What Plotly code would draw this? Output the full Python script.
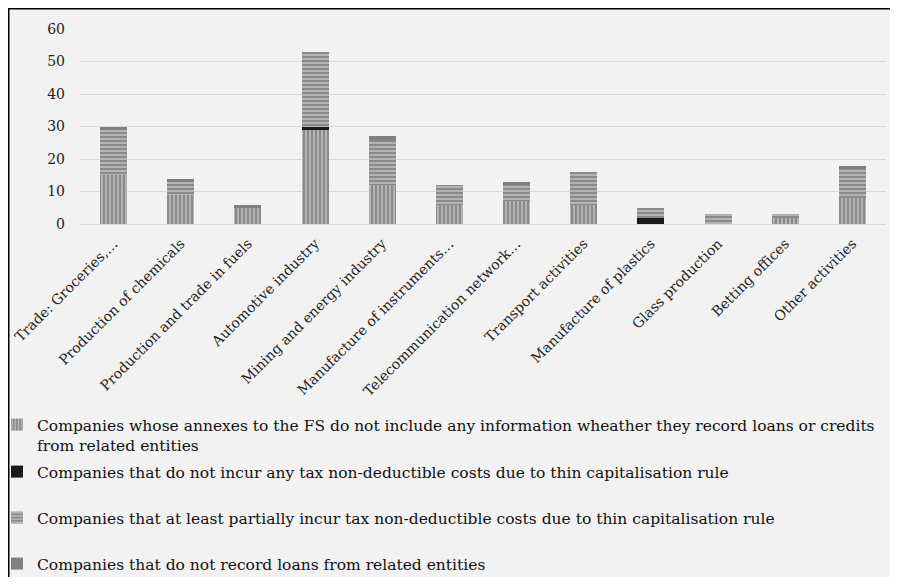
import plotly.graph_objects as go

categories = [
    "Trade: Groceries,…", "Production of chemicals", "Production and trade in fuels",
    "Automotive industry", "Mining and energy industry", "Manufacture of instruments…",
    "Telecommunication network…", "Transport activities", "Manufacture of plastics",
    "Glass production", "Betting offices", "Other activities",
]

no_info = [15, 9, 5, 29, 12, 6, 7, 6, 0, 0, 2, 8]
no_costs = [0, 0, 0, 1, 0, 0, 0, 0, 2, 0, 0, 0]
partial_costs = [14, 4, 0, 23, 14, 6, 5, 10, 3, 3, 1, 9]
no_loans = [1, 1, 1, 0, 1, 0, 1, 0, 0, 0, 0, 1]

series_names = [
    "Companies whose annexes to the FS do not include any information wheather they record loans or credits<br>from related entities",
    "Companies that do not incur any tax non-deductible costs due to thin capitalisation rule",
    "Companies that at least partially incur tax non-deductible costs due to thin capitalisation rule",
    "Companies that do not record loans from related entities",
]

# page body has an 8px margin, so the figure is sized to fit inside it
OFF = 8
W, H = 898 - 2 * OFF, 585 - 2 * OFF
L, R, T, B = 80 - OFF, W - (886 - OFF), 29 - OFF, H - (224 - OFF)
pw, ph = W - L - R, H - T - B

def px_x(p):
    # page pixel -> paper x
    return (p - OFF - L) / pw

def px_y(p):
    # page pixel -> paper y
    return (H - B - (p - OFF)) / ph

fig = go.Figure()

styles = [
    dict(color="#8a8a8a", pattern=dict(shape="|", fgcolor="#ffffff", size=4, solidity=0.35)),
    dict(color="#1a1a1a"),
    dict(color="#8a8a8a", pattern=dict(shape="-", fgcolor="#ffffff", size=4, solidity=0.35)),
    dict(color="#808080"),
]

legend_ids = ["legend", "legend2", "legend3", "legend4"]
legend_tops = [408, 455, 501, 547]

for vals, name, st, lg in zip([no_info, no_costs, partial_costs, no_loans], series_names, styles, legend_ids):
    fig.add_trace(go.Bar(
        x=categories, y=vals, name=name, legend=lg, showlegend=True,
        marker=dict(line=dict(width=0), **st),
    ))

legend_style = dict(
    x=px_x(-3), xanchor="left", yanchor="top", valign="top",
    font=dict(size=15.5, color="#111111"), bgcolor="rgba(0,0,0,0)",
    itemwidth=30,
)
legends = {lg: dict(y=px_y(top), **legend_style) for lg, top in zip(legend_ids, legend_tops)}

fig.update_layout(
    width=W, height=H, showlegend=True,
    barmode="stack", bargap=0.6,
    margin=dict(l=L, r=R, t=T, b=B, autoexpand=False),
    paper_bgcolor="white", plot_bgcolor="rgba(0,0,0,0)",
    font=dict(family="DejaVu Serif, serif", color="#222222", size=14),
    shapes=[dict(
        type="rect", xref="paper", yref="paper", layer="below",
        x0=px_x(8.75), x1=px_x(920), y0=px_y(610), y1=px_y(8.75),
        fillcolor="#f2f2f2", line=dict(color="black", width=1.5),
    )],
    **legends,
)

fig.update_yaxes(range=[0, 60], dtick=10, gridcolor="#d9d9d9", zeroline=False,
                 showline=False, ticks="", ticklabelstandoff=14, tickfont=dict(size=14))
fig.update_xaxes(tickangle=-45, showgrid=False, showline=True, linecolor="#d9d9d9",
                 ticks="", ticklabelstandoff=5, tickfont=dict(size=14))

fig.write_html("out.html")
